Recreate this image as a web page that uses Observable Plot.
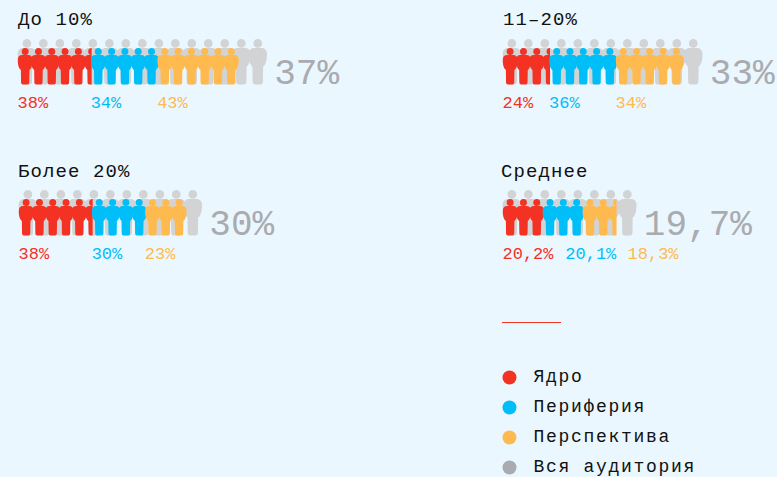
<!DOCTYPE html>
<html>
<head>
<meta charset="utf-8">
<script src="https://cdn.jsdelivr.net/npm/d3@7"></script>
<script src="https://cdn.jsdelivr.net/npm/@observablehq/plot@0.6"></script>
<style>
  html, body { margin: 0; padding: 0; background: #ebf7fe; width: 777px; height: 477px; overflow: hidden; }
  .abs { position: absolute; }
  .title { position: absolute; font-family: "Liberation Mono", monospace; font-size: 19px; letter-spacing: 1.1px; line-height: 22px; color: #111; white-space: nowrap; }
  #rule { position: absolute; left: 502px; top: 322px; width: 59px; height: 1px; background: #f33224; }
</style>
</head>
<body>
<div id="root"></div>
<script>
const panelNames = ["До 10%", "11–20%", "Более 20%", "Среднее"];
const totals = ["37%", "33%", "30%", "19,7%"];
const grayFigures = [15, 12, 11, 8];
const segmentNames = ["Ядро", "Периферия", "Перспектива"];
const segmentColors = ["#f33224", "#00bef8", "#ffba4f"];
const coreFigures = [5.5, 3.5, 5.5, 3];
const peripheryFigures = [5, 5, 4, 3];
const prospectFigures = [6, 5, 3, 2.5];
const coreLabels = ["38%", "24%", "38%", "20,2%"];
const peripheryLabels = ["34%", "36%", "30%", "20,1%"];
const prospectLabels = ["43%", "34%", "23%", "18,3%"];
const legendNames = ["Ядро", "Периферия", "Перспектива", "Вся аудитория"];
const legendColors = ["#f33224", "#00bef8", "#ffba4f", "#a9abb0"];

const panelLeft = [18, 503, 18.5, 503];
const panelBase = [83.5, 84, 235, 235];
const titleLeft = [18, 503, 18, 501];
const titleTop = [9, 9, 161, 161];
const labelStarts = [null, null, null, [0, 4.72, 9.4]];

const UNIT = 13.3, GRAY_STEP = 1.24, GRAY_START = 0.63;
const W = 285, H = 90, MB = 35;

// A person pictogram whose feet sit on the anchor point; r is half its height.
const person = {
  draw(c, size) {
    const r = Math.sqrt(size / Math.PI), k = r / 18.25;
    const X = v => v * k, Y = v => -v * k;
    c.moveTo(X(3.5), Y(33));
    c.arc(0, Y(33), 3.5 * k, 0, 2 * Math.PI);
    c.closePath();
    c.moveTo(X(-3), Y(29.4));
    c.bezierCurveTo(X(-5.8), Y(29.4), X(-7.4), Y(27.5), X(-7.4), Y(24.5));
    c.bezierCurveTo(X(-7.4), Y(21), X(-6.8), Y(18), X(-6), Y(16.5));
    c.quadraticCurveTo(X(-5), Y(14.8), X(-4.3), Y(14.5));
    c.lineTo(X(-4.1), Y(2));
    c.quadraticCurveTo(X(-4.1), Y(0), X(-2.3), Y(0));
    c.lineTo(X(2.3), Y(0));
    c.quadraticCurveTo(X(4.1), Y(0), X(4.1), Y(2));
    c.lineTo(X(4.3), Y(14.5));
    c.quadraticCurveTo(X(5), Y(14.8), X(6), Y(16.5));
    c.bezierCurveTo(X(6.8), Y(18), X(7.4), Y(21), X(7.4), Y(24.5));
    c.bezierCurveTo(X(7.4), Y(27.5), X(5.8), Y(29.4), X(3), Y(29.4));
    c.closePath();
  }
};

let clipSeq = 0;
function clipRight(limit) {
  return function (index, scales, values, dimensions, context, next) {
    const g = next(index, scales, values, dimensions, context);
    const ns = "http://www.w3.org/2000/svg", id = "clip" + clipSeq++;
    const cp = document.createElementNS(ns, "clipPath");
    cp.setAttribute("id", id);
    const rect = document.createElementNS(ns, "rect");
    rect.setAttribute("x", -20);
    rect.setAttribute("y", 0);
    rect.setAttribute("width", scales.x(limit) + 20);
    rect.setAttribute("height", dimensions.height);
    cp.appendChild(rect);
    g.appendChild(cp);
    g.setAttribute("clip-path", `url(#${id})`);
    return g;
  };
}

const root = document.getElementById("root");

panelNames.forEach((name, p) => {
  const t = document.createElement("div");
  t.className = "title";
  t.style.left = titleLeft[p] + "px";
  t.style.top = titleTop[p] + "px";
  t.textContent = name;
  root.appendChild(t);

  const counts = [coreFigures[p], peripheryFigures[p], prospectFigures[p]];
  const labels = [coreLabels[p], peripheryLabels[p], prospectLabels[p]];
  const gray = d3.range(grayFigures[p]).map(i => ({x: GRAY_START + i * GRAY_STEP}));
  const lastGray = gray[gray.length - 1].x;

  let cursor = 0;
  const marks = [
    Plot.dot(gray, {x: "x", r: 22.7, symbol: person, fill: "#d1d3d5", frameAnchor: "bottom"})
  ];
  const labelRows = [];
  counts.forEach((n, s) => {
    const start = cursor, end = cursor + n;
    const rows = d3.range(Math.ceil(n)).map(i => ({x: start + i + 0.5}));
    const opts = {x: "x", r: 18.25, symbol: person, fill: segmentColors[s], frameAnchor: "bottom"};
    if (n % 1) opts.render = clipRight(end);
    marks.push(Plot.dot(rows, opts));
    labelRows.push({x: labelStarts[p] ? labelStarts[p][s] : start, text: labels[s], color: segmentColors[s]});
    cursor = end;
  });
  marks.push(Plot.text(labelRows, {
    x: "x", text: "text", fill: "color", frameAnchor: "bottom", textAnchor: "start",
    lineAnchor: "middle", dx: -1, dy: 18.5, fontSize: 17, fontFamily: "Liberation Mono"
  }));
  marks.push(Plot.text([{x: lastGray, text: totals[p]}], {
    x: "x", text: "text", fill: "#a9abb0", frameAnchor: "bottom", textAnchor: "start",
    lineAnchor: "middle", dx: 16.5, dy: -12.5, fontSize: 36, fontFamily: "Liberation Mono"
  }));

  const svg = Plot.plot({
    width: W, height: H,
    marginLeft: 0, marginRight: 0, marginTop: 0, marginBottom: MB,
    x: {domain: [0, W / UNIT], range: [0, W], axis: null},
    style: {background: "transparent", overflow: "visible"},
    marks
  });
  svg.classList.add("abs");
  svg.style.left = panelLeft[p] + "px";
  svg.style.top = (panelBase[p] - (H - MB)) + "px";
  root.appendChild(svg);
});

const rule = document.createElement("div");
rule.id = "rule";
root.appendChild(rule);

const legendRows = legendNames.map((name, i) => ({name, color: legendColors[i]}));
const legend = Plot.plot({
  width: 260, height: 116,
  marginLeft: 0, marginRight: 0, marginTop: 0, marginBottom: 0,
  x: {domain: [0, 260], range: [0, 260], axis: null},
  y: {domain: legendNames, range: [15, 106], type: "point", padding: 0, axis: null},
  style: {background: "transparent", overflow: "visible", letterSpacing: "1.7px"},
  marks: [
    Plot.dot(legendRows, {y: "name", frameAnchor: "left", dx: 7, r: 7, fill: "color"}),
    Plot.text(legendRows, {
      y: "name", text: "name", frameAnchor: "left", textAnchor: "start", dx: 31, dy: -1,
      fill: "#111", fontSize: 18, fontFamily: "Liberation Mono"
    })
  ]
});
legend.classList.add("abs");
legend.style.left = "502px";
legend.style.top = "361px";
root.appendChild(legend);
</script>
</body>
</html>
